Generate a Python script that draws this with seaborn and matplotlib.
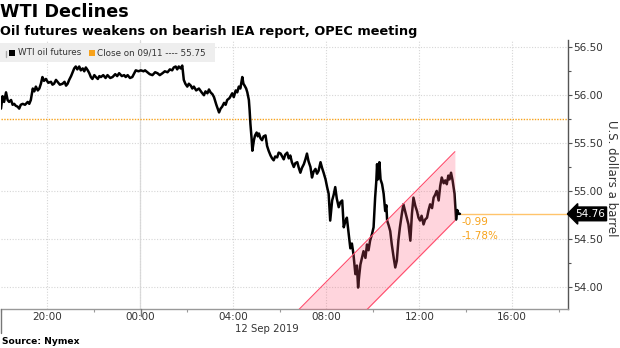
import matplotlib
matplotlib.use("Agg")
import matplotlib.pyplot as plt
import matplotlib.dates as mdates
import matplotlib.transforms as mtrans
from matplotlib.lines import Line2D
from matplotlib.patches import Rectangle
import pandas as pd
import seaborn as sns

# ---------------- data ----------------
times = ["18:00", "18:04", "18:08", "18:13", "18:17", "18:21", "18:26", "18:30", "18:34", "18:38",
         "18:43", "18:47", "18:51", "18:56", "19:02", "19:09", "19:13", "19:17", "19:22", "19:26",
         "19:30", "19:35", "19:39", "19:43", "19:47", "19:51", "19:56", "20:02", "20:09", "20:13",
         "20:17", "20:22", "20:26", "20:32", "20:39", "20:44", "20:48", "20:52", "20:56", "21:01",
         "21:05", "21:09", "21:13", "21:17", "21:22", "21:26", "21:31", "21:35", "21:39", "21:44",
         "21:48", "21:52", "21:56", "22:01", "22:05", "22:10", "22:14", "22:18", "22:24", "22:30",
         "22:35", "22:42", "22:48", "22:55", "23:00", "23:05", "23:12", "23:18", "23:22", "23:27",
         "23:33", "23:39", "23:44", "23:48", "23:55", "00:01", "00:08", "00:12", "00:18", "00:24",
         "00:31", "00:38", "00:44", "00:50", "00:57", "01:03", "01:10", "01:16", "01:22", "01:26",
         "01:31", "01:35", "01:39", "01:44", "01:48", "01:52", "01:56", "02:01", "02:05", "02:10",
         "02:14", "02:18", "02:24", "02:31", "02:38", "02:44", "02:48", "02:53", "02:57", "03:01",
         "03:06", "03:10", "03:16", "03:23", "03:27", "03:31", "03:36", "03:40", "03:44", "03:50",
         "03:57", "04:01", "04:06", "04:10", "04:14", "04:18", "04:23", "04:26", "04:29", "04:33",
         "04:36", "04:40", "04:42", "04:44", "04:47", "04:49", "04:53", "04:56", "05:00", "05:03",
         "05:06", "05:10", "05:14", "05:18", "05:23", "05:27", "05:31", "05:36", "05:40", "05:44",
         "05:48", "05:53", "05:57", "06:02", "06:06", "06:10", "06:14", "06:19", "06:23", "06:27",
         "06:31", "06:36", "06:40", "06:45", "06:49", "06:53", "06:57", "07:02", "07:06", "07:10",
         "07:14", "07:19", "07:23", "07:27", "07:32", "07:36", "07:40", "07:45", "07:49", "07:53",
         "07:58", "08:02", "08:06", "08:10", "08:15", "08:19", "08:23", "08:27", "08:32", "08:36",
         "08:41", "08:45", "08:49", "08:53", "08:58", "09:02", "09:06", "09:10", "09:15", "09:19",
         "09:22", "09:25", "09:28", "09:32", "09:36", "09:41", "09:45", "09:49", "09:53", "09:58",
         "10:02", "10:06", "10:09", "10:11", "10:13", "10:15", "10:17", "10:20", "10:24", "10:28",
         "10:32", "10:35", "10:37", "10:41", "10:45", "10:49", "10:54", "10:58", "11:02", "11:06",
         "11:10", "11:15", "11:19", "11:24", "11:28", "11:32", "11:37", "11:41", "11:45", "11:50",
         "11:54", "11:58", "12:02", "12:06", "12:11", "12:15", "12:20", "12:24", "12:28", "12:33",
         "12:37", "12:41", "12:45", "12:50", "12:54", "12:58", "13:03", "13:07", "13:11", "13:15",
         "13:18", "13:22", "13:26", "13:31", "13:35", "13:38", "13:41", "13:45"]
prices = [55.86, 55.99, 55.93, 56.03, 55.95, 55.93, 55.95, 55.90, 55.91, 55.89,
          55.88, 55.86, 55.90, 55.91, 55.90, 55.93, 55.91, 55.95, 56.07, 56.04,
          56.09, 56.05, 56.07, 56.12, 56.19, 56.15, 56.17, 56.13, 56.14, 56.11,
          56.12, 56.16, 56.14, 56.11, 56.12, 56.14, 56.10, 56.12, 56.16, 56.20,
          56.24, 56.28, 56.30, 56.27, 56.30, 56.26, 56.28, 56.25, 56.29, 56.26,
          56.23, 56.19, 56.17, 56.21, 56.19, 56.17, 56.20, 56.19, 56.21, 56.18,
          56.21, 56.18, 56.19, 56.22, 56.20, 56.23, 56.20, 56.21, 56.19, 56.21,
          56.18, 56.19, 56.23, 56.26, 56.25, 56.26, 56.25, 56.26, 56.24, 56.22,
          56.21, 56.24, 56.23, 56.21, 56.23, 56.25, 56.24, 56.27, 56.26, 56.29,
          56.30, 56.27, 56.30, 56.28, 56.31, 56.16, 56.12, 56.09, 56.12, 56.10,
          56.07, 56.09, 56.05, 56.07, 56.03, 56.00, 56.04, 56.02, 56.06, 56.03,
          56.01, 55.98, 55.90, 55.82, 55.86, 55.88, 55.92, 55.90, 55.95, 55.97,
          56.02, 55.98, 56.05, 56.03, 56.09, 56.07, 56.19, 56.12, 56.10, 56.07,
          56.03, 55.95, 55.84, 55.70, 55.55, 55.42, 55.53, 55.58, 55.61, 55.57,
          55.60, 55.55, 55.53, 55.57, 55.58, 55.47, 55.42, 55.37, 55.34, 55.32,
          55.36, 55.35, 55.40, 55.39, 55.36, 55.33, 55.38, 55.40, 55.34, 55.37,
          55.30, 55.25, 55.29, 55.30, 55.24, 55.19, 55.24, 55.28, 55.33, 55.39,
          55.31, 55.25, 55.14, 55.20, 55.23, 55.18, 55.21, 55.30, 55.24, 55.19,
          55.12, 55.04, 54.97, 54.69, 54.90, 54.96, 55.04, 54.92, 54.83, 54.88,
          54.90, 54.62, 54.68, 54.72, 54.54, 54.40, 54.45, 54.34, 54.13, 54.22,
          53.99, 54.12, 54.23, 54.30, 54.37, 54.30, 54.44, 54.38, 54.48, 54.55,
          54.62, 54.93, 55.10, 55.28, 55.12, 55.18, 55.30, 55.12, 55.07, 54.97,
          54.79, 54.85, 54.69, 54.64, 54.58, 54.44, 54.30, 54.20, 54.27, 54.48,
          54.62, 54.76, 54.86, 54.78, 54.72, 54.65, 54.48, 54.76, 54.93, 54.84,
          54.79, 54.72, 54.69, 54.74, 54.65, 54.70, 54.72, 54.80, 54.86, 54.82,
          54.93, 54.96, 55.00, 54.90, 55.05, 55.14, 55.08, 55.11, 55.07, 55.16,
          55.12, 55.19, 55.11, 54.97, 54.70, 54.80, 54.76, 54.76]
prev_close = 55.75
last_price = 54.76
change_labels = ["-0.99", "-1.78%"]
channel_times = ["06:49", "13:32"]
channel_upper = [53.76, 55.41]
channel_lower = [53.04, 54.69]
y_ticks = [54.00, 54.50, 55.00, 55.50, 56.00, 56.50]

title = "WTI Declines"
subtitle = "Oil futures weakens on bearish IEA report, OPEC meeting"
source = "Source: Nymex"
y_label = "U.S. dollars a barrel"
date_label = "12 Sep 2019"
legend_labels = ["WTI oil futures", "Close on 09/11 ---- 55.75"]

assert len(times) == len(prices)


def to_dt(t):
    h = int(t[:2])
    day = "2019-09-11" if h >= 18 else "2019-09-12"
    return pd.Timestamp(f"{day} {t}")


df = pd.DataFrame({"time": [to_dt(t) for t in times], "price": prices})
ch = pd.DataFrame({"time": [to_dt(t) for t in channel_times],
                   "upper": channel_upper, "lower": channel_lower})

# ---------------- figure ----------------
sns.set_theme(style="white")
plt.rcParams['font.family'] = ['DejaVu Sans']

W, H = 620, 348
fig = plt.figure(figsize=(W / 100, H / 100), dpi=100)


def px(x, y):
    return x / W, 1 - y / H


ax = fig.add_axes([1 / W, (H - 309) / H, 567 / W, 269 / H])

ORANGE = "#f7a21b"
GRID = "#d6d6d6"
TXT = "#333333"

x0 = pd.Timestamp("2019-09-11 18:00")
x1 = pd.Timestamp("2019-09-12 18:24")
ax.set_xlim(x0, x1)
ax.set_ylim(53.766, 56.577)

# grid
ax.set_yticks(y_ticks)
ax.xaxis.set_major_locator(mdates.HourLocator(byhour=[0, 4, 8, 12, 16, 20]))
ax.xaxis.set_minor_locator(mdates.HourLocator(byhour=[2, 6, 10, 14, 18, 22]))
ax.xaxis.set_major_formatter(mdates.DateFormatter("%H:%M"))
ax.yaxis.set_minor_locator(matplotlib.ticker.MultipleLocator(0.25))
ax.grid(True, which="major", linestyle=(0, (1, 1.5)), color=GRID, lw=0.8, zorder=0)
ax.axvline(pd.Timestamp("2019-09-12 00:00"), color="#dcdcdc", lw=0.9, zorder=0)

# close line
ax.axhline(prev_close, color=ORANGE, lw=1.0, linestyle=(0, (1, 1)), zorder=1)

# main line
sns.lineplot(data=df, x="time", y="price", color="black", lw=1.8, ax=ax,
             legend=False, zorder=2)

# channel
ax.fill_between(ch["time"], ch["lower"], ch["upper"], color="#ff5a78", alpha=0.25,
                lw=0, zorder=3)
ax.plot(ch["time"], ch["upper"], color="#ff4d6d", lw=0.8, zorder=4)
ax.plot(ch["time"], ch["lower"], color="#ff4d6d", lw=0.8, zorder=4)

# last value line
ax.hlines(last_price, df["time"].iloc[-1], x1, color="#ffc46b", lw=1.0, zorder=1)
ax.text(df["time"].iloc[-1] + pd.Timedelta(minutes=5), last_price - 0.09, change_labels[0],
        color=ORANGE, fontsize=7.5, ha="left", va="center")
ax.text(df["time"].iloc[-1] + pd.Timedelta(minutes=5), last_price - 0.235, change_labels[1],
        color=ORANGE, fontsize=7.5, ha="left", va="center")

# axes styling
ax.yaxis.tick_right()
ax.yaxis.set_major_formatter(matplotlib.ticker.FormatStrFormatter("%.2f"))
for s in ["left", "top"]:
    ax.spines[s].set_visible(False)
ax.spines["right"].set_color("#555555")
ax.spines["right"].set_linewidth(1.0)
ax.spines["bottom"].set_color("#999999")
ax.spines["bottom"].set_linewidth(1.0)
ax.tick_params(axis="y", which="major", right=True, length=3, width=0.8, color="#555555",
               labelsize=7.5, labelcolor=TXT, pad=1)
ax.tick_params(axis="y", which="minor", right=True, length=2, width=0.8, color="#555555")
ax.tick_params(axis="x", which="major", bottom=True, length=0, labelsize=7.5,
               labelcolor=TXT, pad=2)
ax.tick_params(axis="x", which="minor", bottom=True, length=2, width=0.8, color="#999999")
ax.set_xlabel("")
ax.set_ylabel("")

# value box on right axis
trans = mtrans.blended_transform_factory(ax.transAxes, ax.transData)
ax.text(1.012, last_price, f"{last_price:.2f}", transform=trans, color="white",
        fontsize=7.5, ha="left", va="center", zorder=6, clip_on=False,
        bbox=dict(boxstyle="larrow,pad=0.18", fc="black", ec="black"))

# day markers on x axis
fig.add_artist(Line2D([1 / W, 1 / W], [(H - 309) / H, (H - 333) / H], color="#777777", lw=1.0))
fig.add_artist(Line2D([140.5 / W, 140.5 / W], [(H - 309) / H, (H - 316) / H], color="#777777", lw=1.0))

# y label
fig.text(*px(611, 178), y_label, rotation=270, fontsize=8.5, color=TXT, ha="center", va="center")

# date label
fig.text(*px(267, 329), date_label, fontsize=7.3, color=TXT, ha="center", va="center")

# titles and source
fig.text(*px(0, 12), title, fontsize=12.7, fontweight="bold", color="black", ha="left", va="center")
fig.text(*px(0, 32), subtitle, fontsize=9.3, fontweight="bold", color="black", ha="left", va="center")
fig.text(*px(2, 342), source, fontsize=6.6, fontweight="bold", color="black", ha="left", va="center")

# legend (manual)
fig.add_artist(Rectangle(px(0, 62), 215 / W, 19 / H, transform=fig.transFigure,
                         facecolor="#eeeeee", edgecolor="none", zorder=5))
fig.add_artist(Line2D([5.5 / W, 5.5 / W], [px(0, 51)[1], px(0, 57)[1]], color="#aaaaaa",
                      lw=1.0, zorder=6))
fig.add_artist(Rectangle(px(9, 56), 6 / W, 6 / H, transform=fig.transFigure,
                         facecolor="black", edgecolor="none", zorder=6))
fig.text(*px(18, 52.5), legend_labels[0], fontsize=6.3, color=TXT, ha="left", va="center", zorder=6)
fig.add_artist(Rectangle(px(89, 56), 6 / W, 6 / H, transform=fig.transFigure,
                         facecolor=ORANGE, edgecolor="none", zorder=6))
fig.text(*px(97, 52.5), legend_labels[1], fontsize=6.3, color=TXT, ha="left", va="center", zorder=6)

fig.savefig("out.png", dpi=100)
